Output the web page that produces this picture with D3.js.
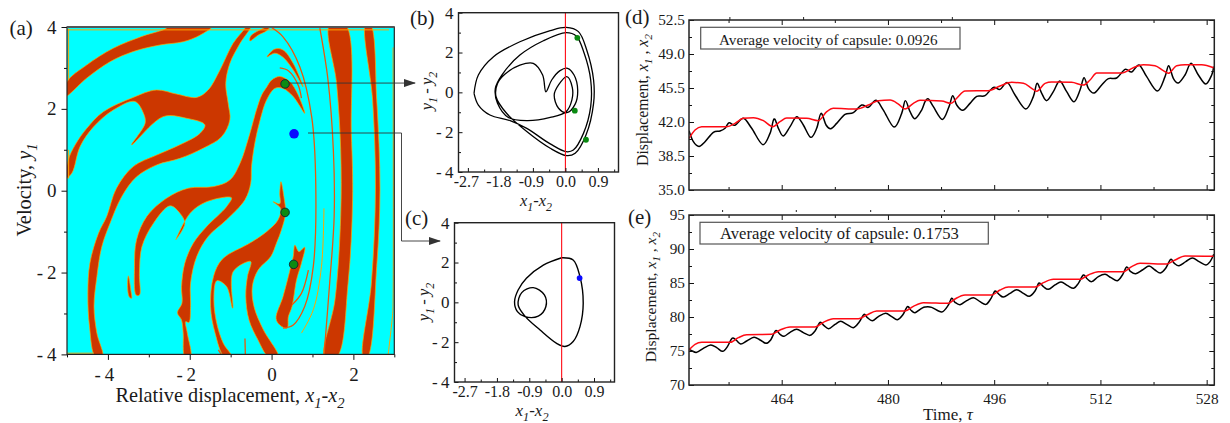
<!DOCTYPE html>
<html><head><meta charset="utf-8">
<script src="https://cdn.jsdelivr.net/npm/d3@7/dist/d3.min.js"></script>
<style>
html,body{margin:0;padding:0;background:#fff}
text{font-family:"Liberation Serif","Times New Roman",serif;fill:#1a1a1a}
</style></head><body><svg id="c" width="1230" height="423"></svg>
<script>
// ---- panel (a): basin regions, in (x1-x2, y1) units
const basinTopBand=[[-5,2.66],[-4.52,3.07],[-3.87,3.48],[-3.14,3.78],[-2.57,3.97],[-2.52,4.05],[-1.42,4.05],[-1.75,3.8],[-2.16,3.64],[-2.73,3.56],[-3.38,3.4],[-3.95,3.15],[-4.52,2.75],[-5.05,2.3]];
const basinUpperBody=[[-5.03,.3],[-4.97,.75],[-4.8,1.12],[-4.52,1.52],[-4.11,1.93],[-3.38,2.28],[-2.81,2.46],[-2.32,2.36],[-1.83,2.28],[-1.55,2.46],[-1.26,2.95],[-.94,3.6],[-.65,3.97],[-.61,4.05],[-.49,4.05],[-.77,3.6],[-1.02,3.11],[-1.12,2.62],[-1.06,2.13],[-1.02,1.73],[-1.22,1.32],[-1.67,1.04],[-2.24,.79],[-2.81,.63],[-3.3,.34],[-3.66,-.14],[-3.95,-.8],[-4.15,-1.37],[-4.27,-2.1],[-4.34,-2.83],[-4.27,-3.48],[-4.13,-4.05],[-4.31,-4.05],[-4.45,-3.32],[-4.49,-2.51],[-4.44,-1.77],[-4.23,-1.04],[-4.03,-.63],[-3.79,.06],[-3.38,.59],[-2.81,.87],[-2.24,1.12],[-1.75,1.4],[-1.63,1.61],[-2.08,1.77],[-2.65,1.81],[-3.42,1.12],[-3.09,1.65],[-3.13,1.89],[-3.34,2.18],[-3.87,1.97],[-4.35,1.56],[-4.68,1.08],[-4.88,.43]];
const basinCentralArch=[[-.12,2.53],[0,2.7],[.2,2.79],[.45,2.66],[.65,2.34],[.81,1.89],[.53,2.3],[.28,2.5],[.08,2.5],[-.12,2.22],[-.28,1.73],[-.41,1.16],[-.49,.59],[-.51,.18],[-.65,-.22],[-1.1,-.71],[-1.55,-1.12],[-1.83,-1.61],[-1.98,-2.26],[-1.98,-2.83],[-2.02,-3.22],[-2.1,-3.2],[-2.06,-3.48],[-1.98,-4.05],[-2.12,-4.05],[-2.16,-3.48],[-2.2,-3.16],[-2.3,-2.98],[-2.19,-2.75],[-2.2,-2.34],[-2.12,-1.77],[-1.91,-1.28],[-1.59,-.88],[-1.1,-.39],[-.98,-.17],[-1.59,-.27],[-1.99,-.55],[-2.34,-1.2],[-2.12,-.8],[-2.24,-.55],[-2.48,-.37],[-2.89,-.8],[-3.17,-1.37],[-3.23,-2.02],[-3.23,-2.55],[-3.31,-2.55],[-3.35,-1.85],[-3.3,-1.2],[-3.05,-.63],[-2.56,-.18],[-2.04,.06],[-1.42,.1],[-1.02,.26],[-.77,.67],[-.53,1.4],[-.37,1.97],[-.24,2.34]];
const basinFleck=[[-3.5,-2.08],[-3.44,-2.43],[-3.42,-2.63],[-3.48,-2.59],[-3.52,-2.34]];
const basinLowerBody=[[.23,.22],[.3,-.14],[.34,-.55],[.24,-.96],[.12,-1.28],[-.02,-1.61],[-.33,-1.94],[-.47,-2.34],[-.43,-2.83],[-.2,-3.4],[.16,-4.05],[-.08,-4.05],[-.33,-3.65],[-.55,-3.16],[-.63,-2.59],[-.59,-2.1],[-.51,-1.73],[-.94,-1.98],[-.95,-2.87],[-1.1,-2.34],[-1.34,-2.2],[-1.41,-2.67],[-1.34,-3.24],[-1.18,-3.73],[-.98,-4.05],[-1.16,-4.05],[-1.38,-3.48],[-1.49,-2.83],[-1.42,-2.1],[-1.2,-1.67],[-.53,-1.28],[-.12,-1],[.16,-.71],[.22,-.43],[.04,-.27],[.2,-.32],[.2,-.06]];
const basinWedge=[[.57,-1.33],[.67,-1.49],[.81,-1.38],[.73,-1.77],[.61,-2.18],[.5,-2.83],[.41,-3.08],[.38,-3.36],[.2,-3.28],[.11,-3.12],[.28,-2.59],[.45,-1.94],[.53,-1.61]];
const basinTopTip=[[-.53,3.66],[-.51,3.78],[-.2,3.97],[0,4.05],[-.12,3.91],[-.33,3.8]];
const basinCrescent=[[-.11,3.27],[.08,3.46],[.28,3.44],[.53,3.11],[.77,2.54],[.53,2.95],[.28,3.26],[.08,3.36]];
const basinThickStripe=[[1.42,4.05],[1.59,2.62],[1.69,1],[1.69,-.63],[1.55,-2.67],[1.3,-4.05],[1.6,-4.05],[1.87,-2.26],[1.98,-.23],[1.95,1.4],[1.81,4.05]];
const basinSlimStripe=[[2.3,4.05],[2.47,2.22],[2.54,.02],[2.44,-2.26],[2.24,-4.05],[2.35,-4.05],[2.57,-1.85],[2.65,.02],[2.57,2.22],[2.42,4.05]];
const basinRegions=[basinTopBand,basinUpperBody,basinCentralArch,basinFleck,basinLowerBody,basinWedge,basinTopTip,basinCrescent,basinThickStripe,basinSlimStripe];
const ridgeLongArc=[[-.02,4],[.28,3.76],[.69,3.03],[.98,1.81],[1.08,.18],[1.02,-1.85],[.81,-2.83],[.53,-3.28],[.28,-3.36]];
const ridgeShortArc=[[.2,3],[.41,2.93],[.65,2.58],[.73,2.26]];
const ridgeHook=[[.5,-2.79],[.73,-2.51],[.9,-1.94]];
const ridgeThinStripe=[[1.18,3.97],[1.38,2.7],[1.51,1],[1.53,-.63],[1.42,-2.26],[1.28,-4.05]];
const ridgeBottomA=[[-.65,-3.61],[-.64,-4.05]];
const ridgeBottomB=[[-1.3,-3.89],[-1.2,-4.05]];
const ridges=[ridgeLongArc,ridgeShortArc,ridgeHook,ridgeThinStripe,ridgeBottomA,ridgeBottomB];
const edgeInner=[[1.28,-.43],[1.22,-1.85],[1.02,-2.91],[.73,-3.48]];
const edgeFarRight=[[2.85,-4],[2.96,-3],[2.97,-2.7],[2.97,3.5]];
const edgeTop=[[-5,3.93],[2.87,3.93]];
const edgeLeft=[[-4.96,3.96],[-4.96,2.7]];
const edgeLeft2=[[-4.96,1],[-4.96,.3]];
const edgeBottom=[[-5,-3.97],[-4.35,-3.97]];
const edges=[edgeInner,edgeFarRight,edgeTop,edgeLeft,edgeLeft2,edgeBottom];
const periodicPoints=[[.33,2.61],[.33,-.53],[.54,-1.8]];
const onePoint=[[.55,1.39]];
const aXMajor=[-4,-2,0,2], aXMinor=[-5,-3,-1,1,3], aYMajor=[-4,-2,0,2,4], aYMinor=[-3,-1,1,3];
// ---- panels (b), (c): phase portraits
const orbitB=[[-2.53,-.05],[-2.41,.87],[-1.99,1.79],[-1.26,2.54],[-.42,3.1],[.02,3.26],[.36,3.05],[.59,2.13],[.78,.62],[.78,-.55],[.57,-2.14],[.27,-3.06],[.04,-3.18],[-.42,-2.81],[-1.07,-1.97],[-1.63,-1.05],[-1.92,-.22],[-1.88,.45],[-1.67,.92],[-1.26,1.37],[-.89,1.46],[-.63,.87],[-.54,.03],[-.38,.62],[-.15,1.09],[.06,1.21],[.24,.87],[.34,.12],[.27,-.59],[.04,-1.02],[-.19,-.8],[-.31,-.13],[-.19,.37],[.04,.79],[.19,.25],[.18,-.38],[.02,-.97],[-.42,-1.26],[-1.07,-1.42],[-1.58,-1.26],[-1.88,-.55],[-1.94,.2],[-1.76,.87],[-1.26,1.87],[-.61,2.59],[.02,3],[.3,2.83],[.52,1.96],[.7,.62],[.7,-.72],[.5,-2.06],[.22,-2.9],[.02,-2.98],[-.42,-2.59],[-1.07,-1.81],[-1.53,-1.42],[-2.09,-1.14],[-2.41,-.64],[-2.53,-.05]];
const orbitBPoints=[[.33,2.74],[.26,-.92],[.57,-2.38]];
const orbitC=[[0,2.24],[.32,2.13],[.51,1.29],[.6,-.05],[.51,-1.22],[.32,-1.97],[.09,-2.22],[-.14,-2.06],[-.6,-1.39],[-1.02,-.69],[-1.21,-.13],[-1.11,.49],[-.79,.74],[-.48,.37],[-.44,-.22],[-.65,-.69],[-1.02,-.72],[-1.23,-.47],[-1.31,.03],[-1.21,.62],[-.98,1.21],[-.51,1.87],[0,2.24]];
const orbitCPoints=[[.5,1.22]];
const pXMajor=[-2.7,-1.8,-.9,0,.9], pXMinor=[-2.25,-1.35,-.45,.45,1.35], pYMajor=[-4,-2,0,2,4], pYMinor=[-3,-1,1,3];
// ---- panels (d), (e): time histories
const timeMajor=[464,480,496,512,528], timeMinor=[456,472,488,504,520];
const dYMajor=[35,38.5,42,45.5,49,52.5], dYMinor=[36.75,40.25,43.75,47.25,50.75];
const eYMajor=[70,75,80,85,90,95], eYMinor=[72.5,77.5,82.5,87.5,92.5];
const dBlack=[[450.04,41.11],[450.7,39.97],[451.55,39.49],[452.45,39.97],[453.71,40.94],[454.71,41.07],[455.47,41.35],[456.07,41.93],[456.97,41.66],[458.23,42.38],[459.48,41.35],[461.14,39.67],[462.24,40.83],[462.85,42.31],[463.5,41.35],[464.25,40.56],[465.26,41.52],[466.26,42.55],[467.26,41.69],[468.37,40.42],[469.27,41.35],[469.92,42.89],[470.68,41.69],[471.38,41.31],[472.28,41.86],[473.54,42.79],[474.79,42.96],[476.05,43.75],[477.05,43.51],[478.21,44.23],[479.31,43.23],[480.92,41.48],[482.07,42.89],[482.62,44.2],[483.33,43.06],[484.08,42.34],[485.08,43.23],[485.59,44.09],[486.09,44.37],[486.84,43.58],[488.2,42.27],[489.2,43.58],[489.75,44.71],[490.36,43.75],[491.26,43.2],[492.36,43.92],[493.37,44.64],[494.62,44.71],[495.88,45.57],[496.88,45.36],[497.99,46.05],[499.14,44.78],[500.75,43.34],[501.9,44.61],[502.45,45.98],[503.16,44.95],[503.91,44.2],[504.91,45.12],[505.87,46.22],[506.92,45.12],[508.03,44.09],[508.93,45.29],[509.53,46.56],[510.18,45.47],[511.04,44.98],[512.19,45.81],[513.2,46.46],[514.45,46.53],[515.71,47.42],[516.71,47.15],[517.82,47.87],[518.97,46.67],[520.58,45.19],[521.73,46.67],[522.28,47.8],[522.98,46.49],[523.74,46.01],[524.74,46.84],[525.65,48.04],[526.75,46.84],[527.86,45.91],[528.76,46.84],[529.06,47.7]];
const dRed=[[450.04,40.32],[450.95,41.18],[451.95,41.52],[455.72,41.52],[456.97,41.86],[458.23,42.38],[459.73,42.45],[461.24,42.14],[462.64,41.52],[463.75,42.03],[464.75,42.41],[467.77,42.38],[469.52,42.14],[470.78,43.06],[471.78,43.41],[475.3,43.34],[477.05,43.75],[478.56,44.2],[480.32,44.26],[481.57,43.85],[482.57,43.34],[483.83,43.92],[484.83,44.23],[488.1,44.16],[489.5,43.92],[490.36,44.44],[491.61,45.19],[495.12,45.22],[496.88,45.71],[498.64,46.08],[500.4,45.98],[501.65,45.47],[502.4,45.16],[503.66,45.98],[504.66,46.12],[507.67,46.08],[509.43,45.81],[510.44,46.32],[511.44,47.04],[515.2,47.04],[516.96,47.59],[518.47,47.9],[520.22,47.8],[521.48,47.28],[522.23,47.01],[523.49,47.8],[524.74,47.9],[527.25,47.9],[529.06,47.59]];
const eBlack=[[450.04,75.29],[450.45,75.05],[451.2,74.8],[452.2,75.39],[453.31,75.88],[454.21,75.49],[455.11,74.95],[455.82,75.64],[456.52,76.86],[457.12,76.62],[457.83,76.03],[458.73,76.47],[459.83,77.01],[460.74,76.62],[461.64,76.13],[462.34,76.62],[463.1,77.99],[463.75,77.45],[464.35,77.16],[465.26,77.75],[466.26,78.19],[467.26,77.7],[468.27,77.3],[469.02,77.94],[469.77,79.22],[470.38,78.73],[471.08,78.28],[472.03,78.92],[472.89,79.36],[473.79,78.92],[474.79,78.43],[475.65,79.22],[476.4,80.39],[476.9,79.9],[477.65,79.46],[478.56,80.05],[479.66,80.54],[480.57,80.05],[481.42,79.61],[482.22,80.29],[482.93,81.52],[483.43,81.03],[484.08,80.64],[485.08,81.27],[485.59,81.47],[486.59,81.42],[488.1,80.74],[489.1,81.76],[489.6,82.75],[490.1,82.16],[490.86,81.81],[491.86,82.4],[492.87,82.84],[493.87,82.25],[494.77,81.86],[495.53,82.75],[496.13,83.82],[496.73,83.33],[497.38,82.94],[498.39,83.48],[499.39,84.02],[500.4,83.48],[501.3,83.04],[502.15,83.82],[502.75,85],[503.41,84.46],[504.16,84.07],[505.16,84.71],[506.07,85.15],[507.07,84.61],[507.97,84.22],[508.68,84.95],[509.43,86.18],[510.03,85.59],[510.69,85.2],[511.69,85.93],[512.7,86.27],[513.6,85.78],[514.55,85.34],[515.31,86.18],[515.96,87.35],[516.56,86.67],[517.32,86.37],[518.32,86.91],[519.33,87.5],[520.22,86.91],[521.03,86.47],[521.83,87.16],[522.58,88.48],[523.14,87.89],[523.84,87.55],[524.85,88.14],[525.85,88.68],[526.86,88.14],[527.86,87.65],[528.52,88.14],[529.07,89.22]];
const eRed=[[450.04,75.15],[450.95,75.98],[451.95,76.27],[456.22,76.27],[457.47,76.96],[458.73,77.4],[462.49,77.45],[463.75,78.09],[465.26,78.53],[469.02,78.53],[470.28,79.22],[471.78,79.75],[475.55,79.75],[476.8,80.29],[478.31,80.88],[482.57,80.88],[483.83,81.57],[485.33,82.11],[489.1,82.01],[490.1,82.65],[491.61,83.24],[495.63,83.24],[496.88,83.97],[498.14,84.41],[502.15,84.41],[503.41,85.05],[504.91,85.54],[508.93,85.54],[510.18,86.18],[511.69,86.67],[515.46,86.67],[516.71,87.4],[517.97,87.89],[521.98,87.79],[523.24,88.38],[524.75,88.97],[529.07,88.92]];
const strayTopD=[456.2,467.3,489.7], strayTopE=[455.1,466.2,477.4,488.5,499.7];

const CYAN="#00ffff",BASIN="#cc3700",ORANGE="#ffa500",GREEN="#0b8a12",BLUE="#0a0aff",RED="#ff0a14",INK="#111";
const svg=d3.select("#c");
const defs=svg.append("defs");
defs.append("marker").attr("id","arrow").attr("viewBox","0 0 12 8").attr("refX",11).attr("refY",4)
  .attr("markerUnits","userSpaceOnUse").attr("markerWidth",12).attr("markerHeight",8).attr("orient","auto")
  .append("path").attr("d","M0,0L12,4L0,8Z").attr("fill","#333");

function panel(f,xd,yd,id){
  const x=d3.scaleLinear().domain(xd).range([f.l,f.r]);
  const y=d3.scaleLinear().domain(yd).range([f.b,f.t]);
  defs.append("clipPath").attr("id",id).append("rect").attr("x",f.l).attr("y",f.t).attr("width",f.r-f.l).attr("height",f.b-f.t);
  const g=svg.append("g");
  const marks=g.append("g").attr("clip-path",`url(#${id})`);
  return {x,y,f,g,marks};
}
function ax(p,o){
  const dir=o.inside?-1:1, fs=o.fs, f=p.f;
  const tidy=s=>{s.select(".domain").remove();s.selectAll("line").attr("stroke",INK).attr("stroke-width",1);s.selectAll("text").attr("font-size",fs).style("font-family",'"Liberation Serif",serif').attr("fill","#1a1a1a");};
  const fmt=o.fmt||(d=>String(d));
  const bot=p.g.append("g").attr("transform",`translate(0,${f.b})`);
  const xMajor=d3.axisBottom(p.x).tickValues(o.xMajor).tickFormat(o.noXLabels?"":fmt).tickSizeInner(dir*o.maj).tickSizeOuter(0).tickPadding(o.xPad);
  bot.append("g").call(xMajor).call(tidy).selectAll(".tick text").attr("dx",d=>d<0?(o.negShift||0):0);
  bot.append("g").call(d3.axisBottom(p.x).tickValues(o.xMinor).tickFormat("").tickSizeInner(dir*o.min).tickSizeOuter(0)).call(tidy);
  const left=p.g.append("g").attr("transform",`translate(${f.l},0)`);
  left.append("g").call(d3.axisLeft(p.y).tickValues(o.yMajor).tickFormat(o.yFmt||fmt).tickSizeInner(dir*o.maj).tickSizeOuter(0).tickPadding(o.yPad)).call(tidy)
    .selectAll(".tick text").attr("font-size",o.yFs||fs);
  left.append("g").call(d3.axisLeft(p.y).tickValues(o.yMinor).tickFormat("").tickSizeInner(dir*o.min).tickSizeOuter(0)).call(tidy);
  if(o.mirror){
    const rt=p.g.append("g").attr("transform",`translate(${f.r},0)`);
    rt.append("g").call(d3.axisRight(p.y).tickValues(o.yMajor).tickFormat("").tickSizeInner(-o.maj).tickSizeOuter(0)).call(tidy);
    rt.append("g").call(d3.axisRight(p.y).tickValues(o.yMinor).tickFormat("").tickSizeInner(-o.min).tickSizeOuter(0)).call(tidy);
    const tp=p.g.append("g").attr("transform",`translate(0,${f.t})`);
    tp.append("g").call(d3.axisTop(p.x).tickValues(o.xMajor).tickFormat("").tickSizeInner(-o.maj).tickSizeOuter(0)).call(tidy);
    tp.append("g").call(d3.axisTop(p.x).tickValues(o.xMinor).tickFormat("").tickSizeInner(-o.min).tickSizeOuter(0)).call(tidy);
  }
  p.g.append("rect").attr("x",f.l).attr("y",f.t).attr("width",f.r-f.l).attr("height",f.b-f.t)
    .attr("fill","none").attr("stroke",o.frame||"#222").attr("stroke-width",o.fw||1.5);
}
// text helper: parts = [text, style] where style "i" italic, "s" italic subscript
function rich(x,y,parts,fs,rot,anchor){
  const t=svg.append("text").attr("font-size",fs).attr("text-anchor",anchor||"middle")
    .attr("transform",`translate(${x},${y})${rot?` rotate(${rot})`:""}`);
  let dy=0;
  parts.forEach(([s,k])=>{
    const ts=t.append("tspan").text(s);
    const want=k==="s"?fs*0.28:0;
    ts.attr("dy",want-dy); dy=want;
    if(k==="i"||k==="s")ts.attr("font-style","italic");
    if(k==="s")ts.attr("font-size",fs*0.72);
  });
  return t;
}
const xy=p=>d3.line().x(d=>p.x(d[0])).y(d=>p.y(d[1]));

// ---------- (a)
const A=panel({l:67,r:394.3,t:27,b:354.4},[-5,3],[-4,4],"clipA");
A.marks.append("rect").attr("x",A.f.l).attr("y",A.f.t).attr("width",A.f.r-A.f.l).attr("height",A.f.b-A.f.t).attr("fill",CYAN);
A.marks.selectAll(".basin").data(basinRegions).join("path").attr("class","basin")
  .attr("d",xy(A).curve(d3.curveCatmullRomClosed.alpha(.5))).attr("fill",BASIN).attr("stroke",ORANGE).attr("stroke-width",.7);
A.marks.selectAll(".edge").data(edges).join("path").attr("class","edge")
  .attr("d",xy(A).curve(d3.curveCatmullRom.alpha(.5))).attr("fill","none").attr("stroke",ORANGE).attr("stroke-width",1);
A.marks.selectAll(".ridge").data(ridges).join("path").attr("class","ridge")
  .attr("d",xy(A).curve(d3.curveCatmullRom.alpha(.5))).attr("fill","none").attr("stroke","#e8590c").attr("stroke-width",1.3);
ax(A,{xMajor:aXMajor,xMinor:aXMinor,yMajor:aYMajor,yMinor:aYMinor,maj:5.5,min:3,fs:19,xPad:8,yPad:5,fw:1.2,negShift:-4,fmt:d=>d<0?"-\u2009"+(-d):String(d)});
svg.append("line").attr("x1",A.f.l).attr("x2",A.f.r).attr("y1",A.f.t).attr("y2",A.f.t).attr("stroke","#555").attr("stroke-width",2);
svg.append("g").selectAll("circle").data(periodicPoints).join("circle").attr("cx",d=>A.x(d[0])).attr("cy",d=>A.y(d[1])).attr("r",4.3).attr("fill",GREEN).attr("stroke","#123").attr("stroke-width",.9);
svg.append("g").selectAll("circle").data(onePoint).join("circle").attr("cx",d=>A.x(d[0])).attr("cy",d=>A.y(d[1])).attr("r",4.8).attr("fill",BLUE);
rich(230,402,[["Relative displacement, ",""],["x","i"],["1","s"],["-",""],["x","i"],["2","s"]],20.3);
rich(31,190,[["Velocity, ",""],["y","i"],["1","s"]],20.4,-90);
rich(9.5,35,[["(a)",""]],21,0,"start");

// connectors
svg.append("path").attr("d",`M${A.x(.4)},${A.y(2.63)}H415`).attr("fill","none").attr("stroke","#333").attr("stroke-width",.9).attr("marker-end","url(#arrow)");
svg.append("path").attr("d",`M308,133H401.5V241H440`).attr("fill","none").attr("stroke","#333").attr("stroke-width",.9).attr("marker-end","url(#arrow)");

// ---------- (b)
const pOpts={xMajor:pXMajor,xMinor:pXMinor,yMajor:pYMajor,yMinor:pYMinor,inside:true,maj:4,min:2.5,fs:16,yFs:17,xPad:4,yPad:5,fw:1.4,fmt:d=>d.toFixed(1),yFmt:d=>d<0?"-\u2009"+(-d):String(d)};
const B=panel({l:458.5,r:618.5,t:12.7,b:172},[-2.96,1.47],[-4,4],"clipB");
B.marks.append("path").datum(orbitB).attr("d",xy(B).curve(d3.curveCatmullRom.alpha(.5))).attr("fill","none").attr("stroke","#000").attr("stroke-width",1.3);
B.marks.append("line").attr("x1",B.x(0)).attr("x2",B.x(0)).attr("y1",B.y(-4)).attr("y2",B.y(4)).attr("stroke",RED).attr("stroke-width",1.1);
ax(B,{...pOpts,negShift:-2});
svg.append("g").selectAll("circle").data(orbitBPoints).join("circle").attr("cx",d=>B.x(d[0])).attr("cy",d=>B.y(d[1])).attr("r",2.9).attr("fill",GREEN);
rich(536,206,[["x","i"],["1","s"],["-",""],["x","i"],["2","s"]],16.5);
rich(432,91,[["y","i"],["1","s"],["\u2009-\u2009",""],["y","i"],["2","s"]],16.5,-90);
rich(410,25,[["(b)",""]],21,0,"start");

// ---------- (c)
const C=panel({l:454.5,r:614.5,t:222.7,b:382},[-2.98,1.47],[-4,4],"clipC");
C.marks.append("path").datum(orbitC).attr("d",xy(C).curve(d3.curveCatmullRom.alpha(.5))).attr("fill","none").attr("stroke","#000").attr("stroke-width",1.4);
C.marks.append("line").attr("x1",C.x(0)).attr("x2",C.x(0)).attr("y1",C.y(-4)).attr("y2",C.y(4)).attr("stroke",RED).attr("stroke-width",1.1);
ax(C,pOpts);
svg.append("g").selectAll("circle").data(orbitCPoints).join("circle").attr("cx",d=>C.x(d[0])).attr("cy",d=>C.y(d[1])).attr("r",2.9).attr("fill",BLUE);
rich(532,416,[["x","i"],["1","s"],["-",""],["x","i"],["2","s"]],17);
rich(429,302,[["y","i"],["1","s"],["\u2009-\u2009",""],["y","i"],["2","s"]],16.5,-90);
rich(405,225,[["(c)",""]],21,0,"start");

// ---------- (d), (e)
function series(p,black,red){
  p.marks.append("path").datum(black).attr("d",xy(p).curve(d3.curveCatmullRom.alpha(0))).attr("fill","none").attr("stroke","#000").attr("stroke-width",1.5);
  p.marks.append("path").datum(red).attr("d",xy(p).curve(d3.curveMonotoneX)).attr("fill","none").attr("stroke",RED).attr("stroke-width",1.5);
}
function box(x0,x1,y0,y1,label,fs,tx,ty){
  svg.append("rect").attr("x",x0).attr("y",y0).attr("width",x1-x0).attr("height",y1-y0).attr("fill","#fff").attr("stroke","#555").attr("stroke-width",1.2);
  svg.append("text").attr("x",tx).attr("y",ty).attr("font-size",fs).text(label);
}
const tDomain=[450.04,529.15];
const tOpts={xMajor:timeMajor,xMinor:timeMinor,inside:true,maj:5,min:3,fs:15.3,xPad:8,yPad:4,mirror:true,fw:1.5};
const D=panel({l:689,r:1214.3,t:20,b:190},tDomain,[35,52.5],"clipD");
series(D,dBlack,dRed);
ax(D,{...tOpts,yMajor:dYMajor,yMinor:dYMinor,noXLabels:true,fmt:d=>d.toFixed(1)});
box(700.7,960,27.3,49,"Average velocity of capsule: 0.0926",15.2,719,44.5);
rich(648,100,[["Displacement, ",""],["x","i"],["1","s"],[" , ",""],["x","i"],["2","s"]],15.8,-90);
rich(625,24,[["(d)",""]],21,0,"start");
svg.append("g").selectAll("line").data(strayTopD).join("line").attr("x1",d=>D.x(d)).attr("x2",d=>D.x(d)).attr("y1",17).attr("y2",20).attr("stroke","#222");

const E=panel({l:689,r:1214.3,t:215,b:385},tDomain,[70,95],"clipE");
series(E,eBlack,eRed);
ax(E,{...tOpts,yMajor:eYMajor,yMinor:eYMinor});
box(700,988.3,222.3,244,"Average velocity of capsule: 0.1753",16.6,720,239);
rich(656,297,[["Displacement, ",""],["x","i"],["1","s"],[" , ",""],["x","i"],["2","s"]],15.6,-90);
rich(628,224,[["(e)",""]],21,0,"start");
rich(948,420,[["Time, ",""],["τ","i"]],17);
svg.append("g").selectAll("line").data(strayTopE).join("line").attr("x1",d=>E.x(d)).attr("x2",d=>E.x(d)).attr("y1",210).attr("y2",212).attr("stroke","#222");
</script></body></html>
